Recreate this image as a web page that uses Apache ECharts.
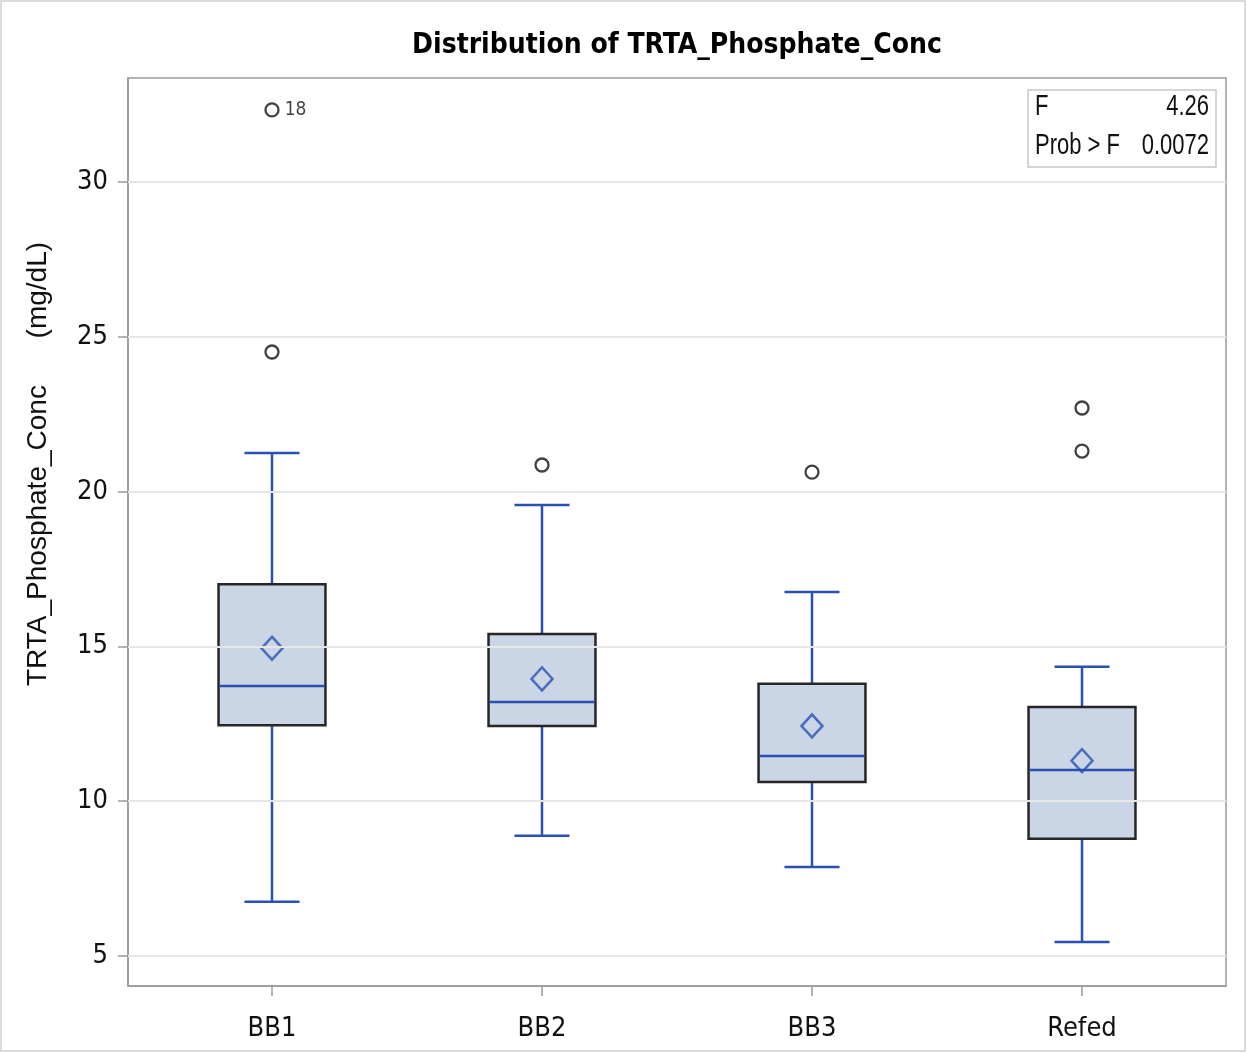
<!DOCTYPE html>
<html>
<head>
<meta charset="utf-8">
<script src="https://cdn.jsdelivr.net/npm/echarts@6/dist/echarts.min.js"></script>
<style>
html,body{margin:0;padding:0;background:#fff;}
#chart{width:1247px;height:1053px;}
</style>
</head>
<body>
<div id="chart"></div>
<script>
// ---- data ----
const categories = ['BB1', 'BB2', 'BB3', 'Refed'];
const whiskerLow = [6.75, 8.88, 7.87, 5.45];
const q1 = [12.45, 12.43, 10.62, 8.79];
const median = [13.72, 13.20, 11.46, 11.01];
const q3 = [17.01, 15.40, 13.79, 13.04];
const whiskerHigh = [21.25, 19.57, 16.76, 14.34];
const means = [14.94, 13.95, 12.43, 11.31];
const outlierGroup = [1, 1, 2, 3, 4, 4];
const outlierValue = [32.33, 24.51, 20.86, 20.63, 22.70, 21.31];
const outlierId = ['18', '', '', '', '', ''];
const yTicks = [5, 10, 15, 20, 25, 30];
const xTicks = [1, 2, 3, 4];
const statLabels = ['F', 'Prob > F'];
const statValues = ['4.26', '0.0072'];

const NARROW = '"Liberation Sans Narrow", "DejaVu Sans Condensed", Arial, sans-serif';
const STATFONT = '22px "Liberation Sans", Arial, sans-serif';
const BLUE = '#2A50B2';

const boxData = categories.map((c, i) => [i + 1, whiskerLow[i], q1[i], median[i], q3[i], whiskerHigh[i]]);
const meanData = categories.map((c, i) => [i + 1, means[i]]);
const outData = outlierValue.map((v, i) => ({
  value: [outlierGroup[i], v],
  label: { show: outlierId[i] !== '', formatter: outlierId[i] }
}));

function statText(txt, x, y, align) {
  return { type: 'text', x: x, y: y, z: 51, scaleY: 1.3,
    style: { text: txt, font: STATFONT, fill: '#111', align: align, verticalAlign: 'middle' } };
}

const chart = echarts.init(document.getElementById('chart'));
chart.setOption({
  animation: false,
  backgroundColor: '#fff',
  title: {
    text: 'Distribution of TRTA_Phosphate_Conc',
    left: 672, top: 27, textAlign: 'center',
    textStyle: { fontFamily: '"DejaVu Sans Condensed", "DejaVu Sans", sans-serif', fontWeight: 'bold', fontSize: 28, color: '#000' }
  },
  grid: { left: 128, right: 21, top: 78, bottom: 67, show: true, borderColor: '#9a9a9a', borderWidth: 1.5, backgroundColor: 'transparent' },
  xAxis: {
    type: 'value', min: 0.4667, max: 4.5333,
    axisLine: { show: true, lineStyle: { color: '#9a9a9a', width: 1.5 } },
    axisTick: { show: true, customValues: xTicks, length: 10, lineStyle: { color: '#9a9a9a', width: 1.5 } },
    axisLabel: { customValues: xTicks, margin: 29, fontFamily: NARROW, fontSize: 27, color: '#111',
      formatter: v => categories[Math.round(v) - 1] || '' },
    splitLine: { show: false }
  },
  yAxis: {
    type: 'value', min: 4.03, max: 33.36,
    axisLine: { show: true, lineStyle: { color: '#9a9a9a', width: 1.5 } },
    axisTick: { show: true, customValues: yTicks, length: 10, lineStyle: { color: '#9a9a9a', width: 1.5 } },
    axisLabel: { customValues: yTicks, margin: 20, fontFamily: NARROW, fontSize: 27, color: '#111' },
    splitLine: { show: false }
  },
  graphic: [
    { type: 'rect', shape: { x: 1, y: 1, width: 1244, height: 1050 }, style: { fill: 'none', stroke: '#d0d0d0', lineWidth: 1.5 }, z: -1 },
    { type: 'text', x: 38, y: 464, rotation: Math.PI / 2,
      style: { text: 'TRTA_Phosphate_Conc      (mg/dL)', font: '28px "Liberation Sans", Arial, sans-serif', fill: '#111', align: 'center', verticalAlign: 'middle' } },
    { type: 'rect', shape: { x: 1028, y: 90, width: 188, height: 77 }, style: { fill: '#fff', stroke: '#c8c8c8', lineWidth: 1.5 }, z: 50 },
    statText(statLabels[0], 1035, 107, 'left'),
    statText(statValues[0], 1209, 107, 'right'),
    statText(statLabels[1], 1035, 146, 'left'),
    statText(statValues[1], 1209, 146, 'right')
  ],
  series: [
    {
      type: 'line', data: [], z: 1, silent: true,
      markLine: {
        silent: true, symbol: 'none', label: { show: false },
        lineStyle: { color: '#e6e6e6', width: 2, type: 'solid' },
        data: yTicks.map(t => ({ yAxis: t }))
      }
    },
    {
      type: 'custom', z: 3, data: boxData,
      renderItem: function (params, api) {
        const x = api.value(0);
        const pLow = api.coord([x, api.value(1)]);
        const pQ1 = api.coord([x, api.value(2)]);
        const pMed = api.coord([x, api.value(3)]);
        const pQ3 = api.coord([x, api.value(4)]);
        const pHigh = api.coord([x, api.value(5)]);
        const bw = api.size([0.396, 0])[0];
        const cw = api.size([0.204, 0])[0];
        const cx = pLow[0];
        const ls = { stroke: BLUE, lineWidth: 2.5 };
        return {
          type: 'group',
          children: [
            { type: 'line', shape: { x1: cx, y1: pLow[1], x2: cx, y2: pQ1[1] }, style: ls },
            { type: 'line', shape: { x1: cx, y1: pQ3[1], x2: cx, y2: pHigh[1] }, style: ls },
            { type: 'line', shape: { x1: cx - cw / 2, y1: pLow[1], x2: cx + cw / 2, y2: pLow[1] }, style: ls },
            { type: 'line', shape: { x1: cx - cw / 2, y1: pHigh[1], x2: cx + cw / 2, y2: pHigh[1] }, style: ls },
            { type: 'rect', shape: { x: cx - bw / 2, y: pQ3[1], width: bw, height: pQ1[1] - pQ3[1] },
              style: { fill: '#CAD5E6', stroke: '#262626', lineWidth: 2.5 } },
            { type: 'line', shape: { x1: cx - bw / 2 + 1, y1: pMed[1], x2: cx + bw / 2 - 1, y2: pMed[1] }, style: ls }
          ]
        };
      }
    },
    {
      type: 'scatter', z: 4, data: meanData, symbol: 'diamond', symbolSize: [21, 23],
      itemStyle: { color: 'rgba(0,0,0,0)', borderColor: BLUE, borderWidth: 2.5 }
    },
    {
      type: 'scatter', z: 4, data: outData, symbol: 'circle', symbolSize: 13,
      itemStyle: { color: 'rgba(0,0,0,0)', borderColor: '#111', borderWidth: 2.3 },
      label: { position: 'right', distance: 5, fontFamily: NARROW, fontSize: 19, color: '#111' }
    }
  ]
});
</script>
</body>
</html>
